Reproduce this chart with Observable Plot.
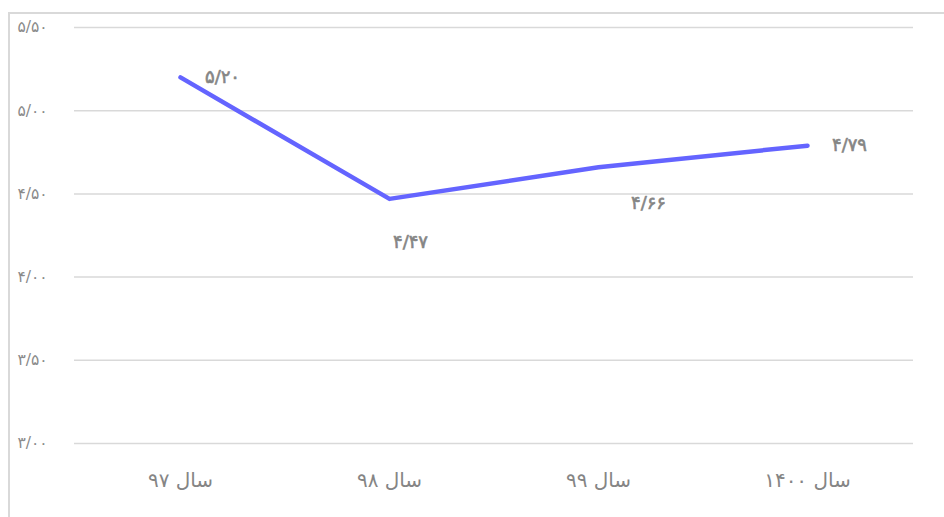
<!DOCTYPE html>
<html>
<head>
<meta charset="utf-8">
<script src="https://cdn.jsdelivr.net/npm/d3@7"></script>
<script src="https://cdn.jsdelivr.net/npm/@observablehq/plot@0.6"></script>
<style>
  html, body { margin: 0; padding: 0; background: #fff; }
  #wrap { position: relative; width: 944px; height: 517px; overflow: hidden; }
  #frame { position: absolute; left: 8px; top: 12px; width: 960px; height: 540px;
           border-top: 2px solid #d9d9d9; border-left: 2px solid #d9d9d9; box-sizing: border-box; }
  #chart { position: absolute; left: 0; top: 0; }
</style>
</head>
<body>
<div id="wrap"><div id="frame"></div><div id="chart"></div></div>
<script>
const years = ["سال ۹۷", "سال ۹۸", "سال ۹۹", "سال ۱۴۰۰"];
const values = [5.20, 4.47, 4.66, 4.79];
const valueLabels = ["۵/۲۰", "۴/۴۷", "۴/۶۶", "۴/۷۹"];
const yTicks = [3.0, 3.5, 4.0, 4.5, 5.0, 5.5];
const yTickLabels = ["۳/۰۰", "۳/۵۰", "۴/۰۰", "۴/۵۰", "۵/۰۰", "۵/۵۰"];

const data = years.map((y, i) => ({year: y, value: values[i], label: valueLabels[i]}));
const font = "'DejaVu Sans', 'Noto Sans', sans-serif";
const labelOffsets = [[42, 0], [21, 43], [50, 36], [42, 0]];

const plot = Plot.plot({
  width: 944,
  height: 517,
  marginLeft: 74,
  marginRight: 31,
  marginTop: 27,
  marginBottom: 74,
  style: {fontFamily: font, background: "transparent", overflow: "visible"},
  x: {type: "point", domain: years, padding: 0.5, label: null},
  y: {domain: [3, 5.5], label: null},
  marks: [
    Plot.gridY(yTicks, {stroke: "#d9d9d9", strokeOpacity: 1, strokeWidth: 1.5}),
    Plot.axisY(yTicks, {
      tickSize: 0, tickPadding: 57, textAnchor: "start",
      tickFormat: (d) => yTickLabels[yTicks.indexOf(d)],
      fill: "#8a8a8a", fontSize: 15.5, label: null,
      stroke: "#8a8a8a", strokeWidth: 0.6
    }),
    Plot.axisX({
      tickSize: 0, tickPadding: 29, fill: "#858585", fontSize: 20, label: null,
      stroke: "#858585", strokeWidth: 0.3
    }),
    Plot.line(data, {x: "year", y: "value", stroke: "#6464ff", strokeWidth: 4.5, strokeLinecap: "round", strokeLinejoin: "round"}),
    ...data.map((d, i) => Plot.text([d], {
      x: "year", y: "value", text: "label",
      dx: labelOffsets[i][0], dy: labelOffsets[i][1],
      fill: "#858585", fontSize: 18,
      stroke: "#858585", strokeWidth: 0.6
    }))
  ]
});
document.getElementById("chart").appendChild(plot);
</script>
</body>
</html>
